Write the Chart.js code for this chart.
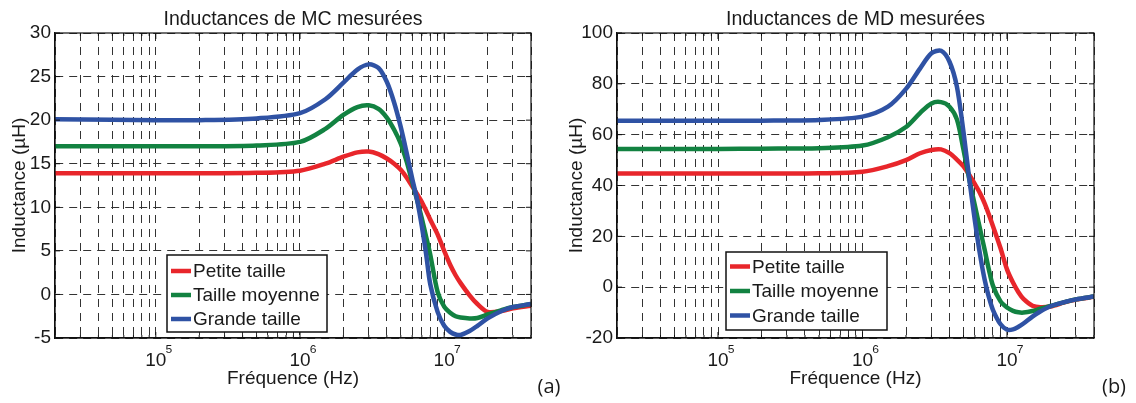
<!DOCTYPE html>
<html>
<head>
<meta charset="utf-8">
<script src="https://cdn.jsdelivr.net/npm/chart.js@4"></script>
<style>
  body { margin: 0; background: #fff; width: 1136px; height: 403px; overflow: hidden; position: relative; }
  canvas { position: absolute; top: 0; }
  #mc { left: 0; }
  #md { left: 565px; }
</style>
</head>
<body>
<canvas id="mc" width="565" height="403"></canvas>
<canvas id="md" width="571" height="403"></canvas>
<script>
// series names and frequency samples (Hz)
const seriesNames = ["Petite taille", "Taille moyenne", "Grande taille"];
const freqs = [2e4, 5e4, 1e5, 2e5, 5e5, 1e6, 1.5e6, 2e6, 2.5e6, 3e6, 3.5e6, 4e6, 4.5e6, 5e6, 5.5e6,
               6e6, 6.5e6, 7e6, 7.5e6, 8e6, 9e6, 1e7, 1.1e7, 1.2e7, 1.3e7, 1.5e7, 1.7e7, 2e7, 2.5e7, 3e7, 4e7];

// MC inductances (uH)
const mcPetite  = [13.9, 13.9, 13.9, 13.9, 13.95, 14.2, 15.0, 15.8, 16.3, 16.4, 16.1, 15.6, 15.0, 14.3, 13.4,
                   12.4, 11.5, 10.6, 9.6, 8.6, 6.9, 5.0, 3.4, 2.2, 1.3, -0.1, -1.1, -2.0, -1.9, -1.6, -1.3];
const mcMoyenne = [17.0, 17.0, 17.0, 17.0, 17.1, 17.5, 19.0, 20.6, 21.5, 21.7, 21.3, 20.3, 18.9, 17.3, 15.2,
                   12.9, 10.8, 8.7, 6.6, 4.6, 0.3, -1.4, -2.1, -2.5, -2.65, -2.75, -2.7, -2.3, -1.8, -1.45, -1.1];
const mcGrande  = [20.1, 20.05, 20.0, 20.0, 20.2, 20.8, 22.4, 24.3, 25.8, 26.4, 26.0, 24.4, 22.0, 19.2, 16.2,
                   13.3, 10.8, 7.8, 4.6, 1.2, -2.0, -3.6, -4.3, -4.6, -4.65, -4.2, -3.6, -2.75, -1.9, -1.45, -1.1];

// MD inductances (uH)
const mdPetite  = [44.7, 44.7, 44.7, 44.7, 44.8, 45.4, 47.6, 50.0, 52.7, 54.0, 54.2, 52.7, 50.2, 47.5, 44.0,
                   40.5, 37.0, 33.0, 28.5, 24.0, 15.5, 7.0, 1.8, -2.0, -4.6, -7.3, -7.9, -7.6, -6.0, -4.9, -3.8];
const mdMoyenne = [54.4, 54.4, 54.4, 54.5, 54.7, 55.7, 59.0, 63.0, 68.5, 72.3, 72.8, 71.0, 66.0, 54.0, 42.0,
                   32.0, 23.0, 14.8, 6.8, 0.5, -5.5, -8.0, -9.3, -9.9, -10.0, -9.4, -8.5, -7.4, -5.9, -4.8, -3.7];
const mdGrande  = [65.5, 65.5, 65.5, 65.5, 65.8, 67.1, 71.0, 78.0, 86.0, 92.0, 93.0, 88.7, 78.9, 61.0, 42.0,
                   26.0, 13.0, 3.0, -4.0, -9.0, -14.5, -16.7, -16.6, -15.6, -14.3, -11.6, -9.6, -7.5, -5.9, -4.8, -3.7];

// axis ticks
const freqTicks = [2e4, 3e4, 4e4, 5e4, 6e4, 7e4, 8e4, 9e4,
                   1e5, 2e5, 3e5, 4e5, 5e5, 6e5, 7e5, 8e5, 9e5,
                   1e6, 2e6, 3e6, 4e6, 5e6, 6e6, 7e6, 8e6, 9e6,
                   1e7, 2e7, 3e7, 4e7];
const decadeLabels = { 1e5: "\u2075", 1e6: "\u2076", 1e7: "\u2077" };

const FONT = '"Liberation Sans", Arial, sans-serif';
const colors = ["#e8262b", "#128241", "#2f52a4"];

// box around the plot + inward ticks (matlab style)
const frame = {
  id: "frame",
  afterDatasetsDraw(chart) {
    const { ctx, chartArea: a, scales } = chart;
    ctx.save();
    ctx.strokeStyle = "#111";
    ctx.lineWidth = 1.2;
    ctx.strokeRect(a.left, a.top, a.right - a.left, a.bottom - a.top);
    ctx.lineWidth = 1;
    ctx.beginPath();
    scales.y.ticks.forEach(t => {
      const py = scales.y.getPixelForValue(t.value);
      ctx.moveTo(a.left, py); ctx.lineTo(a.left + 5, py);
      ctx.moveTo(a.right, py); ctx.lineTo(a.right - 5, py);
    });
    scales.x.ticks.forEach(t => {
      const px = scales.x.getPixelForValue(t.value);
      const len = decadeLabels[t.value] ? 6 : 3;
      ctx.moveTo(px, a.bottom); ctx.lineTo(px, a.bottom - len);
      ctx.moveTo(px, a.top); ctx.lineTo(px, a.top + len);
    });
    ctx.stroke();
    ctx.restore();
  }
};

// legend drawn as a box inside the plot area
const boxLegend = {
  id: "boxLegend",
  afterDatasetsDraw(chart, args, o) {
    const { ctx, chartArea: a } = chart;
    const x = a.left + o.dx, y = a.bottom - o.dy - o.h;
    ctx.save();
    ctx.fillStyle = "#fff";
    ctx.fillRect(x, y, o.w, o.h);
    ctx.strokeStyle = "#111";
    ctx.lineWidth = 1.5;
    ctx.strokeRect(x, y, o.w, o.h);
    ctx.font = "19px " + FONT;
    ctx.textBaseline = "middle";
    chart.data.datasets.forEach((ds, i) => {
      const cy = y + o.first + i * o.row;
      ctx.strokeStyle = ds.borderColor;
      ctx.lineWidth = 4.5;
      ctx.beginPath();
      ctx.moveTo(x + 4, cy); ctx.lineTo(x + 24, cy);
      ctx.stroke();
      ctx.fillStyle = "#1a1a1a";
      ctx.fillText(ds.label, x + 26, cy + 1);
    });
    ctx.restore();
  }
};

// panel tag (a)/(b)
const panelTag = {
  id: "panelTag",
  afterDraw(chart, args, o) {
    const { ctx } = chart;
    ctx.save();
    ctx.font = '20px "Open Sans", sans-serif';
    ctx.fillStyle = "#1a1a1a";
    ctx.textAlign = "center";
    ctx.textBaseline = "middle";
    ctx.fillText(o.text, o.x, o.y);
    ctx.restore();
  }
};

function makeChart(id, title, series, yMin, yMax, yStep, yWidth, yTitlePad, padRight, legendPos, tag) {
  return new Chart(document.getElementById(id), {
    type: "line",
    data: {
      datasets: series.map((vals, i) => ({
        label: seriesNames[i],
        data: freqs.map((f, k) => ({ x: f, y: vals[k] })),
        borderColor: colors[i],
        backgroundColor: colors[i],
        borderWidth: 4.5,
        pointRadius: 0,
        tension: 0.3,
        order: 3 - i
      }))
    },
    options: {
      responsive: false,
      animation: false,
      devicePixelRatio: 1,
      layout: { padding: { left: 0, right: padRight, top: 0, bottom: 0 } },
      plugins: {
        legend: { display: false },
        tooltip: { enabled: false },
        title: {
          display: true,
          text: title,
          fullSize: false,
          color: "#1a1a1a",
          font: { family: FONT, size: 19.5, weight: "normal" },
          padding: { top: 8, bottom: 1.6 }
        },
        boxLegend: legendPos,
        panelTag: tag
      },
      scales: {
        x: {
          type: "logarithmic",
          min: 2e4,
          max: 4e7,
          afterBuildTicks: s => { s.ticks = freqTicks.map(v => ({ value: v })); },
          afterFit: s => { s.height = 65; },
          grid: { color: "#333", lineWidth: 1, drawTicks: false },
          border: { display: true, color: "#111", width: 1.2, dash: [8, 6] },
          ticks: {
            autoSkip: false,
            maxRotation: 0,
            padding: 11,
            color: "#1a1a1a",
            font: { family: FONT, size: 19, lineHeight: 0.42 },
            callback: v => decadeLabels[v] ? ["     " + decadeLabels[v], "10"] : ""
          },
          title: {
            display: true,
            text: "Fréquence (Hz)",
            color: "#1a1a1a",
            font: { family: FONT, size: 19 },
            padding: { top: 0, bottom: 12.6 }
          }
        },
        y: {
          min: yMin,
          max: yMax,
          afterFit: s => { s.width = yWidth; },
          ticks: {
            stepSize: yStep,
            padding: 4,
            color: "#1a1a1a",
            font: { family: FONT, size: 19 }
          },
          grid: { color: "#333", lineWidth: 1, drawTicks: false },
          border: { display: true, color: "#111", width: 1.2, dash: [8, 6] },
          title: {
            display: true,
            text: "Inductance (µH)",
            color: "#1a1a1a",
            font: { family: FONT, size: 19 },
            padding: { top: yTitlePad, bottom: 0 }
          }
        }
      }
    },
    plugins: [frame, boxLegend, panelTag]
  });
}

makeChart("mc", "Inductances de MC mesurées", [mcPetite, mcMoyenne, mcGrande],
  -5, 30, 5, 55, 8, 34,
  { dx: 112, dy: 6, w: 160, h: 77, first: 16, row: 24 },
  { text: "(a)", x: 549, y: 387 });

makeChart("md", "Inductances de MD mesurées", [mdPetite, mdMoyenne, mdGrande],
  -20, 100, 20, 52, 0.6, 42,
  { dx: 109, dy: 8, w: 161, h: 78, first: 14.5, row: 24.5 },
  { text: "(b)", x: 549, y: 387 });
</script>
</body>
</html>
